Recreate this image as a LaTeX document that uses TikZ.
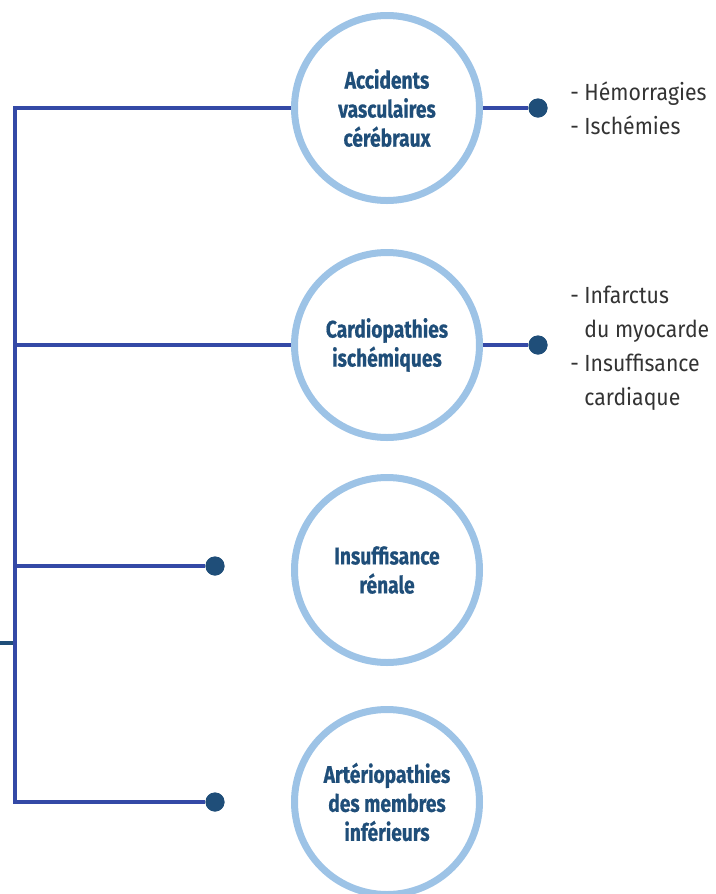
\documentclass[tikz,border=0pt]{standalone}
\usepackage{fontspec}
\usepackage{tikz}
\usetikzlibrary{positioning}
\newfontfamily\circlefont[FakeStretch=0.8, BoldFeatures={FakeBold=0.6}]{Fira Sans}
\newfontfamily\listfont[FakeStretch=0.91]{Fira Sans}
\definecolor{ringblue}{HTML}{9DC3E6}
\definecolor{lineblue}{HTML}{3449A6}
\definecolor{navy}{HTML}{1F4E79}
\definecolor{textgrey}{HTML}{333333}

\begin{document}
\begin{tikzpicture}[x=0.75pt, y=-0.75pt,
    disease/.style={draw=ringblue,
        line width=5.25pt,
        circle,
        minimum size=138.75pt,
        inner sep=0pt,
        align=center,
        text=navy,
        font=\circlefont\bfseries\fontsize{18}{21.75}\selectfont
    },
    endpoint/.style={circle,
        fill=navy,
        inner sep=0pt,
        minimum size=14.25pt
    },
    link/.style={draw=lineblue, line width=3pt},
    outcome/.style={anchor=west,
        inner sep=0pt,
        align=left,
        text=textgrey,
        font=\listfont\fontsize{17.5}{25.5}\selectfont
    }]
    \useasboundingbox (0,0) rectangle (716,894);

    \node [disease] (Circle1) at (387,108) {Accidents\\vasculaires\\cérébraux};
    \node [disease] (Circle2) at (387,345) {Cardiopathies\\ischémiques};
    \node [disease] (Circle3) at (387,570) {Insuffisance\\rénale};
    \node [disease] (Circle4) at (387,802) {Artériopathies\\des membres\\inférieurs};

    \node [endpoint] (Dot1) at (538,108) {};
    \node [endpoint] (Dot2) at (538,345) {};
    \node [endpoint] (Dot3) at (215,566) {};
    \node [endpoint] (Dot4) at (215,802) {};

    \coordinate (Branch1) at (15,108);
    \coordinate (Branch2) at (15,345);
    \coordinate (Branch3) at (15,566);
    \coordinate (Branch4) at (15,802);
    \coordinate (Root) at (0,643);
    \coordinate (Trunk) at (15,643);

    \draw [navy, line width=3pt] (Root) -- (Trunk);
    \draw [link] (Circle1) -- (Branch1) -- (Branch4) -- (Dot4);
    \draw [link] (Branch2) -- (Circle2);
    \draw [link] (Branch3) -- (Dot3);
    \draw [link] (Circle1) -- (Dot1);
    \draw [link] (Circle2) -- (Dot2);

    \node [endpoint] at (Dot1) {};
    \node [endpoint] at (Dot2) {};
    \node [endpoint] at (Dot3) {};
    \node [endpoint] at (Dot4) {};

    \node [outcome] (List1) at (570,108)
    {- Hémorragies\\- Ischémies};
    \node [outcome] (List2) at (570,348)
    {- Infarctus\\\hphantom{- }du myocarde\\- Insuffisance\\\hphantom{- }cardiaque};

\end{tikzpicture}
\end{document}
